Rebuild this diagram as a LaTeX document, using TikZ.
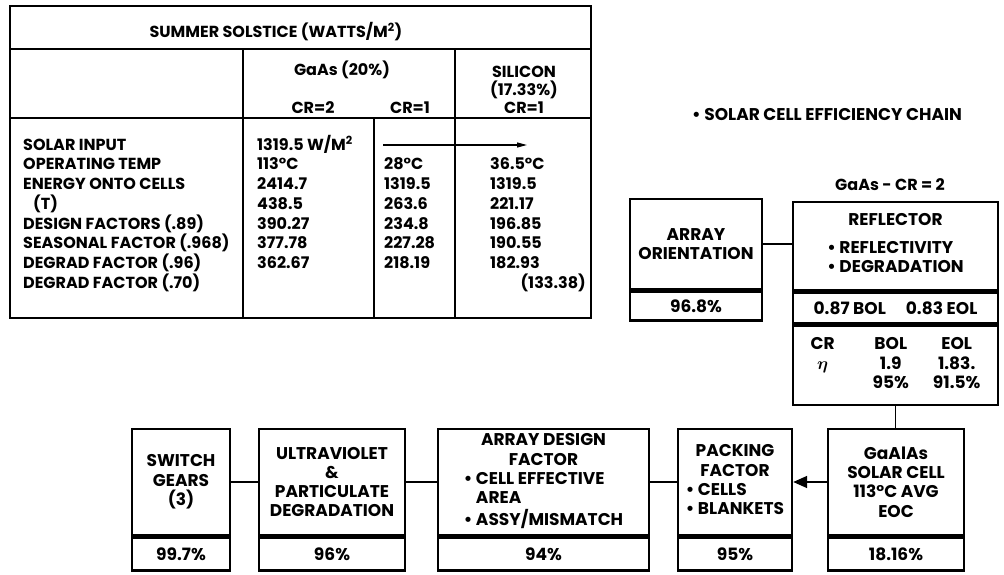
\documentclass[tikz,border=0pt]{standalone}
\usepackage{fontspec}
\setmainfont{Poppins}
\usetikzlibrary{positioning,arrows.meta}

\tikzset{
  cell/.style={inner sep=0pt, anchor=base west, font=\tabfont},
  head/.style={inner sep=0pt, anchor=base, font=\tabfont},
  tline/.style={line width=1.4pt},
  blk/.style={draw, line width=2.4pt, inner sep=0pt, align=center},
  blktop/.style={blk, minimum height=106pt},
  blkpct/.style={blk, minimum height=33pt},
  link/.style={line width=1.6pt},
}
\newcommand\tabfont{\fontsize{16}{19.5}\selectfont\bfseries}

\begin{document}
\begin{tikzpicture}[x=1pt, y=-1pt, font=\fontsize{17}{19.3}\selectfont\bfseries]
\useasboundingbox (0,0) rectangle (1004,575);

% summer solstice table
\draw[tline] (10,6) rectangle (591,318);
\draw[tline] (10,49) -- (591,49);
\draw[tline] (10,118) -- (591,118);
\draw[tline] (243,49) -- (243,318);
\draw[tline] (455,49) -- (455,318);
\draw[tline] (374,118) -- (374,318);

\node (ttl) at (276,37.5) [head] {SUMMER SOLSTICE (WATTS/M\textsuperscript{2})};
\node (gaas) at (342,75.5) [head] {GaAs (20\%)};
\node (cr2) at (313,113.5) [head] {CR=2};
\node (cr1) at (410,113.5) [head] {CR=1};
\node (si) at (524,77.5) [head] {SILICON};
\node (sipct) at (524,95.5) [head] {(17.33\%)};
\node (sicr) at (524,113.5) [head] {CR=1};

\node (lab1) at (23,150.5) [cell] {SOLAR INPUT};
\node (lab2) at (23,170) [cell] {OPERATING TEMP};
\node (lab3) at (23,189.5) [cell] {ENERGY ONTO CELLS};
\node (lab4) at (33,209.5) [cell] {(T)};
\node (lab5) at (23,229) [cell] {DESIGN FACTORS (.89)};
\node (lab6) at (23,248.5) [cell] {SEASONAL FACTOR (.968)};
\node (lab7) at (23,268.5) [cell] {DEGRAD FACTOR (.96)};
\node (lab8) at (23,288.5) [cell] {DEGRAD FACTOR (.70)};

\node (ga1) at (257,150.5) [cell] {1319.5 W/M\textsuperscript{2}};
\node (ga2) at (257,170) [cell] {113°C};
\node (ga3) at (257,189.5) [cell] {2414.7};
\node (ga4) at (257,209.5) [cell] {438.5};
\node (ga5) at (257,229) [cell] {390.27};
\node (ga6) at (257,248.5) [cell] {377.78};
\node (ga7) at (257,268.5) [cell] {362.67};

\node (gb2) at (384,170) [cell] {28°C};
\node (gb3) at (384,189.5) [cell] {1319.5};
\node (gb4) at (384,209.5) [cell] {263.6};
\node (gb5) at (384,229) [cell] {234.8};
\node (gb6) at (384,248.5) [cell] {227.28};
\node (gb7) at (384,268.5) [cell] {218.19};

\node (si2) at (490,170) [cell] {36.5°C};
\node (si3) at (490,189.5) [cell] {1319.5};
\node (si4) at (490,209.5) [cell] {221.17};
\node (si5) at (490,229) [cell] {196.85};
\node (si6) at (490,248.5) [cell] {190.55};
\node (si7) at (490,268.5) [cell] {182.93};
\node (si8) at (586,288.5) [cell, anchor=base east] {(133.38)};

\coordinate (arr0) at (383,145);
\coordinate (arr1) at (527,145);
\draw[-{Triangle[length=10pt,width=5pt]}, line width=1.2pt] (arr0) -- (arr1);

% efficiency chain
\node (chain) at (692,120.5) [inner sep=0pt, anchor=base west] {\textbullet\ SOLAR CELL EFFICIENCY CHAIN};
\node (case) at (890,190.5) [head] {GaAs - CR = 2};

\node (ao) at (696,244) [blk, minimum width=132pt, minimum height=90pt] {ARRAY\\ORIENTATION};
\node (aop) [blk, minimum width=132pt, minimum height=29pt, below=0pt of ao] {96.8\%};

\node (rf) at (895.5,246) [blk, minimum width=205pt, minimum height=88pt]
  {REFLECTOR\\[13pt]\begin{tabular}{@{}l@{}}\textbullet\ REFLECTIVITY\\\textbullet\ DEGRADATION\end{tabular}};
\node (rfm) [blk, minimum width=205pt, minimum height=31pt, below=0pt of rf] {0.87 BOL\hspace{20pt}0.83 EOL};
\node (rfc) [blk, minimum width=205pt, minimum height=79pt, below=0pt of rfm]
  {\begin{tabular}{@{}c@{\hspace{38pt}}c@{\hspace{24pt}}c@{}}
   CR & BOL & EOL\\
   \boldmath$\eta$ & 1.9 & 1.83.\\
   & 95\% & 91.5\%
   \end{tabular}};

\node (ga) at (896,482) [blktop, minimum width=136pt] {GaAlAs\\SOLAR CELL\\113°C AVG\\EOC};
\node (gap) [blkpct, minimum width=136pt, below=0pt of ga] {18.16\%};

\node (pk) at (735,482) [blktop, minimum width=114pt]
  {\begin{tabular}{@{}l@{}}\multicolumn{1}{@{}c@{}}{PACKING}\\\multicolumn{1}{@{}c@{}}{FACTOR}\\\textbullet\ CELLS\\\textbullet\ BLANKETS\end{tabular}};
\node (pkp) [blkpct, minimum width=114pt, below=0pt of pk] {95\%};

\node (ad) at (543.5,482) [blktop, minimum width=211pt]
  {\begin{tabular}{@{}l@{}}\multicolumn{1}{@{}c@{}}{ARRAY DESIGN}\\\multicolumn{1}{@{}c@{}}{FACTOR}\\\textbullet\ CELL EFFECTIVE\\\phantom{\textbullet\ }AREA\\\textbullet\ ASSY/MISMATCH\end{tabular}};
\node (adp) [blkpct, minimum width=211pt, below=0pt of ad] {94\%};

\node (uv) at (332,482) [blktop, minimum width=146pt] {ULTRAVIOLET\\\&\\PARTICULATE\\DEGRADATION};
\node (uvp) [blkpct, minimum width=146pt, below=0pt of uv] {96\%};

\node (sw) at (181,482) [blktop, minimum width=98pt] {SWITCH\\GEARS\\(3)};
\node (swp) [blkpct, minimum width=98pt, below=0pt of sw] {99.7\%};

\draw[link] (ao.east) -- (ao.east -| rf.west);
\draw[link] (rfc.south) -- (rfc.south |- ga.north);
\draw[link, -{Triangle[length=14pt,width=12pt]}] (ga) -- (pk);
\draw[link] (pk) -- (ad);
\draw[link] (ad) -- (uv);
\draw[link] (uv) -- (sw);

\end{tikzpicture}
\end{document}
